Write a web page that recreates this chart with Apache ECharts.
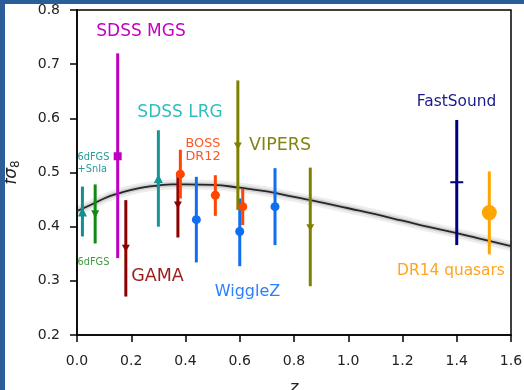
<!DOCTYPE html>
<html>
<head>
<meta charset="utf-8">
<script src="https://cdn.jsdelivr.net/npm/echarts@6/dist/echarts.min.js"></script>
<style>html,body{margin:0;padding:0;background:#fff;}#c{width:524px;height:390px;}</style>
</head>
<body>
<div id="c"></div>
<script>
// ---- data ----
const surveyNames = ['6dFGS', '6dFGS+SnIa', 'SDSS MGS', 'GAMA', 'SDSS LRG', 'BOSS DR12', 'WiggleZ', 'VIPERS', 'FastSound', 'DR14 quasars'];
const pointSurvey = ['6dFGS+SnIa', '6dFGS', 'SDSS MGS', 'GAMA', 'GAMA', 'SDSS LRG', 'BOSS DR12', 'BOSS DR12', 'BOSS DR12', 'WiggleZ', 'WiggleZ', 'WiggleZ', 'VIPERS', 'VIPERS', 'FastSound', 'DR14 quasars'];
const pointZ   = [0.02, 0.067, 0.15, 0.18, 0.372, 0.30, 0.381, 0.51, 0.611, 0.44, 0.60, 0.73, 0.593, 0.86, 1.40, 1.52];
const pointF   = [0.427, 0.423, 0.530, 0.360, 0.440, 0.489, 0.497, 0.458, 0.437, 0.413, 0.391, 0.437, 0.549, 0.398, 0.482, 0.426];
const pointLo  = [0.382, 0.369, 0.342, 0.271, 0.380, 0.400, 0.452, 0.420, 0.403, 0.334, 0.327, 0.366, 0.431, 0.290, 0.366, 0.349];
const pointHi  = [0.474, 0.478, 0.720, 0.449, 0.500, 0.578, 0.542, 0.495, 0.470, 0.492, 0.452, 0.508, 0.670, 0.509, 0.597, 0.502];
const modelZ = [0, 0.05, 0.1, 0.15, 0.2, 0.25, 0.3, 0.35, 0.4, 0.5, 0.6, 0.7, 0.8, 0.9, 1.0, 1.1, 1.2, 1.3, 1.4, 1.5, 1.6];
const modelF = [0.429, 0.440, 0.452, 0.461, 0.468, 0.473, 0.476, 0.478, 0.478, 0.477, 0.472, 0.465, 0.455, 0.445, 0.434, 0.423, 0.411, 0.399, 0.388, 0.376, 0.364];
const xTicks = [0.0, 0.2, 0.4, 0.6, 0.8, 1.0, 1.2, 1.4, 1.6];
const yTicks = [0.2, 0.3, 0.4, 0.5, 0.6, 0.7, 0.8];

// ---- styles ----
const FONT = 'DejaVu Sans';
const surveyStyle = {
  '6dFGS':        {color: '#128a12', symbol: 'triangle', size: [8, 8], rot: 180},
  '6dFGS+SnIa':   {color: '#128f8f', symbol: 'triangle', size: [9, 9], rot: 0},
  'SDSS MGS':     {color: '#c000c0', symbol: 'rect', size: 8, rot: 0},
  'GAMA':         {color: '#8b0000', symbol: 'triangle', size: [8, 7], rot: 180},
  'SDSS LRG':     {color: '#169595', symbol: 'triangle', size: [9, 9], rot: 0},
  'BOSS DR12':    {color: '#ff4500', symbol: 'circle', size: 9, rot: 0},
  'WiggleZ':      {color: '#0f6ff0', symbol: 'circle', size: 9, rot: 0},
  'VIPERS':       {color: '#808000', symbol: 'triangle', size: [8, 7], rot: 180},
  'FastSound':    {color: '#00007f', symbol: 'rect', size: [13, 2], rot: 0},
  'DR14 quasars': {color: '#ffa500', symbol: 'circle', size: 15, rot: 0}
};

const series = [];
// model curve with soft grey band
const modelData = modelZ.map((z, i) => [z, modelF[i]]);
series.push({type: 'line', data: modelData, smooth: true, symbol: 'none', silent: true, z: 1,
  lineStyle: {width: 10, color: 'rgba(0,0,0,0.07)'}});
series.push({type: 'line', data: modelData, smooth: true, symbol: 'none', silent: true, z: 1,
  lineStyle: {width: 5, color: 'rgba(0,0,0,0.12)'}});
series.push({type: 'line', data: modelData, smooth: true, symbol: 'none', silent: true, z: 1,
  lineStyle: {width: 1.8, color: '#262626'}});

surveyNames.forEach(name => {
  const st = surveyStyle[name];
  const idx = pointSurvey.map((s, i) => s === name ? i : -1).filter(i => i >= 0);
  series.push({
    type: 'custom', z: 2, silent: true,
    data: idx.map(i => [pointZ[i], pointLo[i], pointHi[i]]),
    encode: {x: 0, y: [1, 2]},
    renderItem: (params, api) => {
      const a = api.coord([api.value(0), api.value(1)]);
      const b = api.coord([api.value(0), api.value(2)]);
      return {type: 'line', shape: {x1: a[0], y1: a[1], x2: b[0], y2: b[1]},
        style: {stroke: st.color, lineWidth: 3}};
    }
  });
  series.push({
    type: 'scatter', z: 2, silent: true,
    data: idx.map(i => [pointZ[i], pointF[i]]),
    symbol: st.symbol, symbolSize: st.size, symbolRotate: st.rot,
    itemStyle: {color: st.color, opacity: 1}
  });
});

const labels = [
  {text: 'SDSS MGS', x: 141, y: 32, size: 17, color: '#c400c4', align: 'center'},
  {text: 'SDSS LRG', x: 180, y: 113, size: 17, color: '#30bebe', align: 'center'},
  {text: 'BOSS\nDR12', x: 185.5, y: 150.5, size: 12.8, color: '#ff5522', align: 'left', lh: 12.7},
  {text: 'VIPERS', x: 280, y: 145, size: 17.5, color: '#848414', align: 'center'},
  {text: '6dFGS\n+SnIa', x: 77.5, y: 163.5, size: 9.8, color: '#2a9a9a', align: 'left', lh: 12},
  {text: '6dFGS', x: 77.5, y: 262, size: 9.8, color: '#3c9c3c', align: 'left'},
  {text: 'GAMA', x: 157.5, y: 276, size: 17.5, color: '#9c1c1c', align: 'center'},
  {text: 'WiggleZ', x: 247.5, y: 292, size: 16, color: '#2a80ff', align: 'center'},
  {text: 'FastSound', x: 456.5, y: 102, size: 15.4, color: '#1a1a8c', align: 'center'},
  {text: 'DR14 quasars', x: 451, y: 271, size: 15.4, color: '#ffa41c', align: 'center'}
];

const graphic = [
  {type: 'rect', shape: {x: 0, y: 0, width: 524, height: 4}, style: {fill: '#2b5e99'}, z: 100},
  {type: 'rect', shape: {x: 0, y: 0, width: 5, height: 390}, style: {fill: '#2b5e99'}, z: 100}
].concat(labels.map(l => ({
  type: 'text', x: l.x, y: l.y, z: 50, silent: true,
  style: {text: l.text, fill: l.color, font: l.size + 'px "' + FONT + '"',
    textAlign: l.align, textVerticalAlign: 'middle', lineHeight: l.lh || l.size * 1.2}
})));

const chart = echarts.init(document.getElementById('c'), null, {renderer: 'canvas'});
chart.setOption({
  animation: false,
  backgroundColor: '#ffffff',
  textStyle: {fontFamily: FONT},
  grid: {left: 77, right: 13, top: 10, bottom: 55, containLabel: false, outerBoundsMode: 'none',
    show: true, borderColor: '#000', borderWidth: 1.5, backgroundColor: 'transparent'},
  xAxis: {
    type: 'value', min: xTicks[0], max: xTicks[xTicks.length - 1], interval: 0.2,
    name: 'z', nameLocation: 'middle', nameGap: 45,
    nameTextStyle: {fontSize: 17, fontStyle: 'italic', color: '#222', fontFamily: FONT},
    axisLine: {show: true, lineStyle: {color: '#000', width: 1.5}},
    axisTick: {show: true, length: 7, lineStyle: {color: '#000', width: 1.5}},
    splitLine: {show: false},
    axisLabel: {fontSize: 14, color: '#222', margin: 19, fontFamily: FONT,
      formatter: v => v.toFixed(1)}
  },
  yAxis: {
    type: 'value', min: yTicks[0], max: yTicks[yTicks.length - 1], interval: 0.1,
    name: '{a|fσ}{b|8}', nameLocation: 'middle', nameGap: 55, nameRotate: 90,
    nameTextStyle: {color: '#222', fontFamily: FONT,
      rich: {a: {fontSize: 17, fontStyle: 'italic', color: '#222', fontFamily: FONT},
             b: {fontSize: 12, color: '#222', fontFamily: FONT, verticalAlign: 'bottom', padding: [8, 0, 0, 0]}}},
    axisLine: {show: true, lineStyle: {color: '#000', width: 1.5}},
    axisTick: {show: true, length: 7, lineStyle: {color: '#000', width: 1.5}},
    splitLine: {show: false},
    axisLabel: {fontSize: 14, color: '#222', margin: 17, fontFamily: FONT,
      formatter: v => v.toFixed(1)}
  },
  series: series,
  graphic: graphic
});
</script>
</body>
</html>
